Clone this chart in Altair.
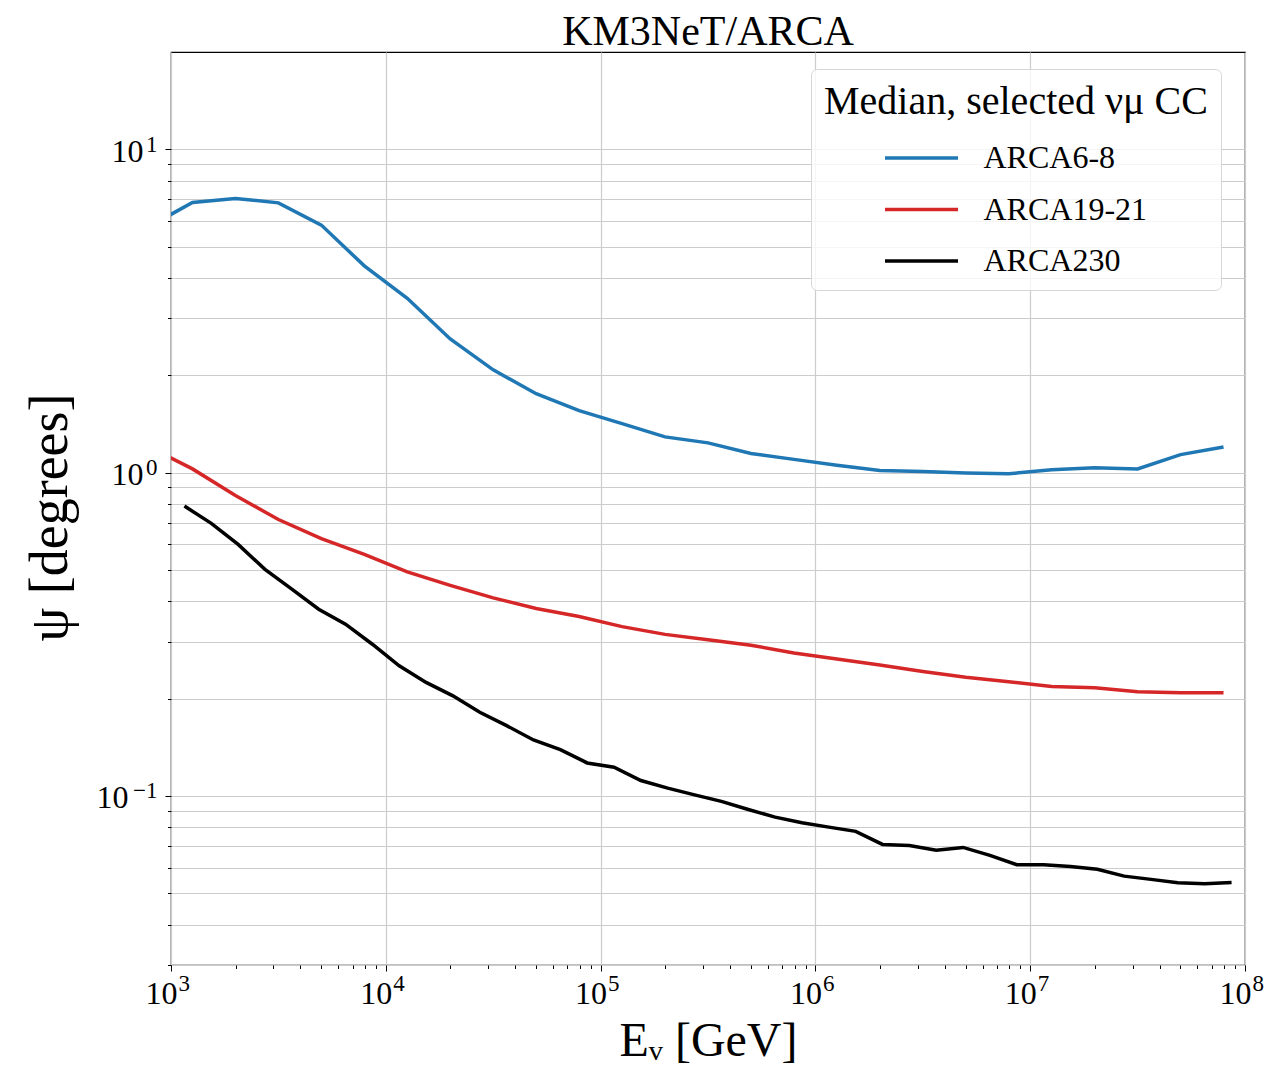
import altair as alt
import pandas as pd

FONT = "Liberation Serif"

SERIES = ["ARCA6-8", "ARCA19-21", "ARCA230"]
COLORS = ["#1f77b4", "#d62728", "#000000"]

# log10(E/GeV) bin centres
LOGE_A = [2.9, 3.1, 3.3, 3.5, 3.7, 3.9, 4.1, 4.3, 4.5, 4.7, 4.9, 5.1, 5.3,
          5.5, 5.7, 5.9, 6.1, 6.3, 6.5, 6.7, 6.9, 7.1, 7.3, 7.5, 7.7, 7.9]
PSI_ARCA6 = [5.78, 6.85, 7.05, 6.83, 5.83, 4.36, 3.46, 2.59, 2.08, 1.754,
             1.555, 1.418, 1.29, 1.236, 1.146, 1.099, 1.054, 1.015, 1.008,
             0.998, 0.992, 1.02, 1.035, 1.027, 1.137, 1.201]
PSI_ARCA19 = [1.20, 1.027, 0.850, 0.716, 0.625, 0.559, 0.493, 0.448, 0.41,
              0.380, 0.359, 0.334, 0.316, 0.304, 0.2926, 0.2766, 0.265, 0.254,
              0.2427, 0.233, 0.2255, 0.218, 0.216, 0.210, 0.2085, 0.2085]

LOGE_B = [3.0625, 3.1875, 3.3125, 3.4375, 3.5625, 3.6875, 3.8125, 3.9375,
          4.0625, 4.1875, 4.3125, 4.4375, 4.5625, 4.6875, 4.8125, 4.9375,
          5.0625, 5.1875, 5.3125, 5.4375, 5.5625, 5.6875, 5.8125, 5.9375,
          6.0625, 6.1875, 6.3125, 6.4375, 6.5625, 6.6875, 6.8125, 6.9375,
          7.0625, 7.1875, 7.3125, 7.4375, 7.5625, 7.6875, 7.8125, 7.9375]
PSI_ARCA230 = [0.788, 0.697, 0.600, 0.502, 0.436, 0.378, 0.340, 0.2946,
               0.2527, 0.2245, 0.204, 0.1814, 0.165, 0.149, 0.139, 0.1265,
               0.1227, 0.1116, 0.1057, 0.1008, 0.0962, 0.0908, 0.086, 0.0826,
               0.0801, 0.0777, 0.0708, 0.0703, 0.0679, 0.0693, 0.0655, 0.0613,
               0.0613, 0.0605, 0.0593, 0.0565, 0.0552, 0.0539, 0.0535, 0.0540]

X_MAJOR = [1e3, 1e4, 1e5, 1e6, 1e7, 1e8]
X_EXP = ["3", "4", "5", "6", "7", "8"]
X_MINOR = [m * d for d in [1e3, 1e4, 1e5, 1e6, 1e7] for m in [2, 3, 4, 5, 6, 7, 8, 9]]
Y_MAJOR = [0.1, 1, 10]
Y_EXP = ["−1", "0", "1"]
Y_MINOR = [m * d for d in [0.01, 0.1, 1] for m in [2, 3, 4, 5, 6, 7, 8, 9] if m * d > 0.029]

rows = []
for s, le, ps in [("ARCA6-8", LOGE_A, PSI_ARCA6),
                  ("ARCA19-21", LOGE_A, PSI_ARCA19),
                  ("ARCA230", LOGE_B, PSI_ARCA230)]:
    for l, p in zip(le, ps):
        rows.append({"series": s, "E": 10 ** l, "psi": p})
df = pd.DataFrame(rows)


def label_expr(vals, labels):
    expr = "''"
    for v, lab in reversed(list(zip(vals, labels))):
        expr = f"(abs(datum.value - {v!r}) < {v * 1e-6!r}) ? '{lab}' : ({expr})"
    return expr


xscale = alt.Scale(type="log", domain=[1e3, 1e8], nice=False)
yscale = alt.Scale(type="log", domain=[0.03, 20], nice=False)
GRID = "#cccccc"
TICK = dict(tickColor="black", tickWidth=1, domain=False,
            labelFont=FONT, labelColor="black", labelFlush=False,
            labelOverlap=False)
TITLE = dict(titleFont=FONT, titleFontWeight="normal", titleColor="black")

# layer 1: minor ticks and minor horizontal grid
minor = alt.Chart(df).mark_line(opacity=0).encode(
    x=alt.X("E:Q", scale=xscale,
            axis=alt.Axis(orient="bottom", values=X_MINOR, labels=False,
                          tickSize=3.5, grid=False, title=None, **TICK)),
    y=alt.Y("psi:Q", scale=yscale,
            axis=alt.Axis(orient="left", values=Y_MINOR, labels=False,
                          tickSize=3.5, grid=True, gridColor=GRID,
                          gridWidth=1.2, title=None, **TICK)),
    detail="series:N",
)

# layer 2: "10" mantissas for the major ticks, grid, axis titles
mant = alt.Chart(df).mark_line(opacity=0).encode(
    x=alt.X("E:Q", scale=xscale,
            axis=alt.Axis(orient="bottom", values=X_MAJOR, labelExpr="'10'",
                          labelFontSize=32, labelAlign="right", labelOffset=6,
                          labelBaseline="top", labelPadding=7,
                          tickSize=6, grid=True, gridColor=GRID, gridWidth=1.2,
                          title="Eᵥ [GeV]", titleFontSize=48, titlePadding=8,
                          **TITLE, **TICK)),
    y=alt.Y("psi:Q", scale=yscale,
            axis=alt.Axis(orient="left", values=[1, 10], labelExpr="'10'",
                          labelFontSize=32, labelAlign="right",
                          labelBaseline="middle", labelOffset=2,
                          labelPadding=22, tickSize=6,
                          grid=True, gridColor=GRID, gridWidth=1.2,
                          title="ψ [degrees]", titleFontSize=54,
                          titlePadding=34, titleY=465, **TITLE, **TICK)),
    detail="series:N",
)

# layer 3: superscript exponents
expo = alt.Chart(df).mark_line(opacity=0).encode(
    x=alt.X("E:Q", scale=xscale,
            axis=alt.Axis(orient="bottom", values=X_MAJOR,
                          labelExpr=label_expr(X_MAJOR, X_EXP),
                          labelFontSize=23, labelAlign="left", labelOffset=7,
                          labelBaseline="top", labelPadding=1,
                          tickSize=6, tickOpacity=0, grid=False, title=None,
                          **TICK)),
    y=alt.Y("psi:Q", scale=yscale,
            axis=alt.Axis(orient="left", values=Y_MAJOR,
                          labelExpr=label_expr(Y_MAJOR, Y_EXP),
                          labelFontSize=23, labelAlign="right",
                          labelBaseline="top", labelOffset=-16,
                          labelPadding=8, tickSize=6, tickOpacity=0,
                          grid=False, title=None, **TICK)),
    detail="series:N",
)

# layer 4: the curves, legend and the 10^-1 mantissa
lines = alt.Chart(df).mark_line(strokeWidth=3.5, clip=True).encode(
    x=alt.X("E:Q", scale=xscale, axis=None),
    y=alt.Y("psi:Q", scale=yscale,
            axis=alt.Axis(orient="left", values=[0.1], labelExpr="'10'",
                          labelFontSize=32, labelAlign="right",
                          labelBaseline="middle", labelOffset=2,
                          labelPadding=37, tickSize=6,
                          grid=True, gridColor=GRID, gridWidth=1.2,
                          title=None, **TICK)),
    color=alt.Color("series:N",
                    scale=alt.Scale(domain=SERIES, range=COLORS),
                    legend=alt.Legend(
                        title="Median, selected νμ CC",
                        orient="none", legendX=640, legendY=17,
                        padding=13, fillColor="rgba(255,255,255,0.8)",
                        strokeColor="#d6d6d6", cornerRadius=6,
                        titleFont=FONT, titleFontSize=40, titleFontWeight="normal",
                        titleColor="black", titleLimit=1000, titlePadding=20,
                        labelFont=FONT, labelFontSize=32, labelColor="black",
                        labelLimit=1000, labelOffset=46,
                        symbolType="M-4,0L4,0", symbolSize=333,
                        symbolStrokeWidth=3.5, symbolOffset=81.5,
                        rowPadding=19.5)),
)

chart = alt.layer(minor, mant, expo, lines).resolve_axis(
    x="independent", y="independent"
).properties(
    width=1074, height=913,
    title=alt.TitleParams("KM3NeT/ARCA", font=FONT, fontSize=42,
                          fontWeight="normal", color="black",
                          anchor="middle", frame="group", offset=-2),
    padding={"left": 163, "top": 44, "right": 22, "bottom": 103},
    autosize=alt.AutoSizeParams(type="none"),
).configure_view(stroke="black", strokeWidth=1.2)

chart.save("out.html", embed_options={"renderer": "svg", "actions": False})
